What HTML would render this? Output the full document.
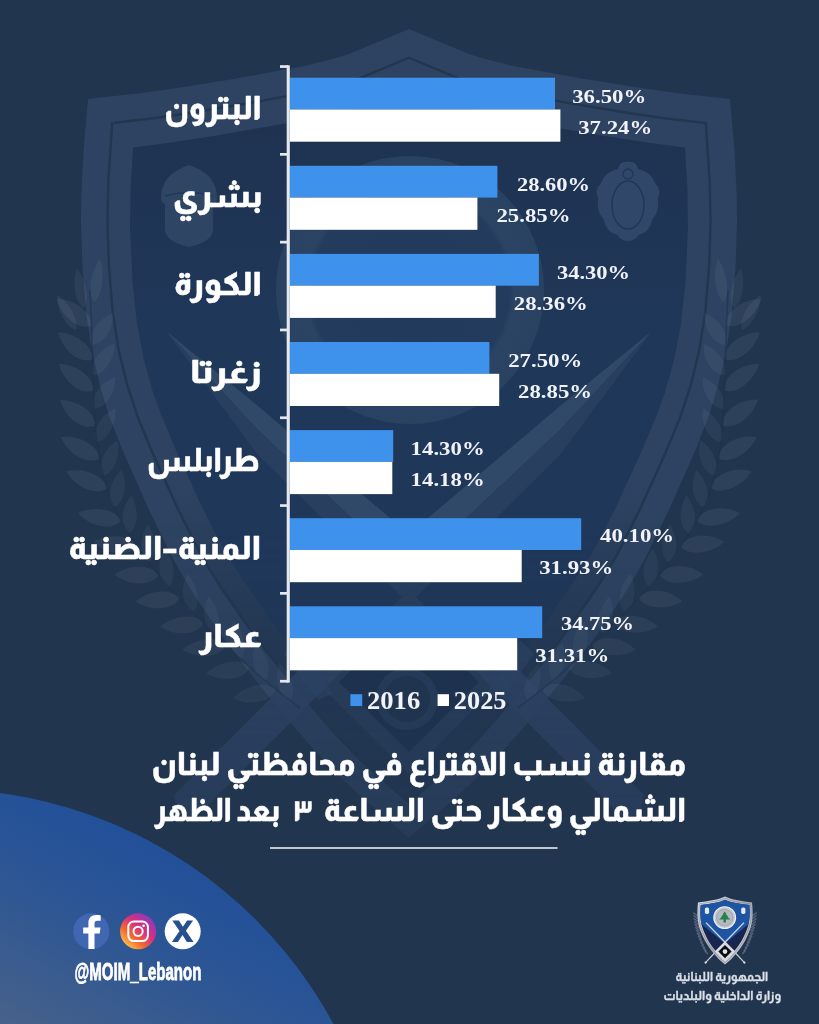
<!DOCTYPE html>
<html lang="ar">
<head>
<meta charset="utf-8">
<title>مقارنة نسب الاقتراع في محافظتي لبنان الشمالي وعكار</title>
<style>
html,body{margin:0;padding:0;background:#21354f;}
body{width:819px;height:1024px;overflow:hidden;position:relative;}
svg{position:absolute;left:0;top:0;display:block;}
.ar{font-family:'Almarai','DejaVu Sans',sans-serif;font-weight:800;fill:#fff;stroke:#fff;stroke-width:0.5px;stroke-linejoin:round;}
.ars{font-family:'Almarai','DejaVu Sans',sans-serif;font-weight:700;fill:#dde1e9;stroke:#dde1e9;stroke-width:0.3px;}
.num{font-family:'Liberation Serif',serif;font-weight:700;fill:#f1f3f8;}
.sans{font-family:'Liberation Sans',sans-serif;font-weight:700;fill:#fff;stroke:#fff;stroke-width:0.8px;}
</style>
</head>
<body>
<svg width="819" height="1024" viewBox="0 0 819 1024" role="img" aria-label="مقارنة نسب الاقتراع">
<defs>
<linearGradient id="circ" gradientUnits="userSpaceOnUse" x1="180" y1="800" x2="40" y2="1060">
<stop offset="0" stop-color="#1f4e99"/>
<stop offset="0.25" stop-color="#245198"/>
<stop offset="0.5" stop-color="#2d5694"/>
<stop offset="0.75" stop-color="#3b5c8e"/>
<stop offset="1" stop-color="#4a6389"/>
</linearGradient>
<linearGradient id="ig" x1="0.15" y1="0.9" x2="0.85" y2="0.1">
<stop offset="0" stop-color="#fdc04d"/>
<stop offset="0.3" stop-color="#f4672f"/>
<stop offset="0.6" stop-color="#d92f7d"/>
<stop offset="1" stop-color="#8a3ac0"/>
</linearGradient>
</defs>
<rect width="819" height="1024" fill="#21354f"/>
<g id="watermark">
<defs>
<linearGradient id="wmfade" gradientUnits="userSpaceOnUse" x1="0" y1="520" x2="0" y2="840"><stop offset="0" stop-color="#fff"/><stop offset="1" stop-color="#777"/></linearGradient>
<mask id="wmmask" maskUnits="userSpaceOnUse" x="0" y="0" width="819" height="1024"><rect width="819" height="1024" fill="url(#wmfade)"/></mask>
<path id="shOuter" d="M409.0 29.0 L349.0 54.0 L333.6 58.7 L305.9 65.7 L233.6 78.9 L175.8 88.3 L139.6 93.3 L88.0 99.0 L83.5 150.0 L81.3 195.6 L80.9 221.3 L82.5 267.5 L86.4 315.3 L91.4 348.2 L99.8 385.3 L108.6 414.3 L122.0 448.9 L148.6 509.0 L172.3 557.3 L181.7 574.3 L195.9 597.5 L225.0 640.0 L254.2 678.6 L291.8 724.2 L315.7 751.6 L342.2 779.0 L367.1 801.7 L409.0 838.0 L450.9 801.7 L475.8 779.0 L502.3 751.6 L526.2 724.2 L563.8 678.6 L593.0 640.0 L622.1 597.5 L636.3 574.3 L645.7 557.3 L669.4 509.0 L696.0 448.9 L709.4 414.3 L718.2 385.3 L726.6 348.2 L731.6 315.3 L735.5 267.5 L737.1 221.3 L736.7 195.6 L734.5 150.0 L730.0 99.0 L678.4 93.3 L642.2 88.3 L584.4 78.9 L512.1 65.7 L484.4 58.7 L469.0 54.0 L409.0 29.0Z"/>
<path id="shPanel" d="M133.0 147.4 L130.5 189.3 L130.0 229.0 L132.6 283.3 L137.1 325.0 L143.8 359.4 L152.9 392.3 L161.8 416.8 L176.8 452.3 L202.1 507.5 L219.9 542.3 L228.4 557.0 L241.6 577.9 L269.5 618.0 L283.1 636.2 L302.2 660.0 L334.9 699.2 L352.0 718.7 L376.0 743.5 L409.0 773.2 L442.0 743.5 L466.0 718.7 L483.1 699.2 L515.8 660.0 L534.9 636.2 L548.5 618.0 L576.4 577.9 L589.6 557.0 L598.1 542.3 L615.9 507.5 L641.2 452.3 L656.2 416.8 L665.1 392.3 L674.2 359.4 L680.9 325.0 L685.4 283.3 L688.0 229.0 L687.5 189.3 L685.0 147.4 L652.3 143.3 L601.7 135.5 L534.1 123.8 L497.9 116.7 L471.5 109.9 L452.9 104.3 L409.0 86.1 L365.1 104.3 L346.5 109.9 L320.1 116.7 L283.9 123.8 L216.3 135.5 L165.7 143.3 L133.0 147.4Z"/>
<clipPath id="clipPanel"><use href="#shPanel"/></clipPath>
<linearGradient id="band2" gradientUnits="userSpaceOnUse" x1="0" y1="480" x2="0" y2="680"><stop offset="0" stop-color="#20344f" stop-opacity="0"/><stop offset="1" stop-color="#20344f" stop-opacity="0.85"/></linearGradient>
<linearGradient id="panelG" gradientUnits="userSpaceOnUse" x1="0" y1="130" x2="0" y2="330"><stop offset="0" stop-color="#1f3351"/><stop offset="1" stop-color="#1f3759"/></linearGradient>
<path id="leaf" d="M0 0 C5 -10 22 -11 34 0 C22 10 5 9 0 0Z"/>
<radialGradient id="ringG" gradientUnits="userSpaceOnUse" cx="410" cy="290" r="134"><stop offset="0" stop-color="#223a5c"/><stop offset="0.74" stop-color="#233b5d"/><stop offset="0.78" stop-color="#2b4464"/><stop offset="1" stop-color="#294262"/></radialGradient>
</defs>
<g mask="url(#wmmask)">
<use href="#shOuter" fill="#2d4361"/>
<path d="M112.2 123.0 L108.4 180.5 L107.4 221.1 L108.9 266.0 L112.7 312.2 L118.8 350.6 L127.3 385.3 L138.3 418.6 L152.7 453.3 L177.2 507.6 L200.2 553.2 L209.1 568.6 L222.8 590.3 L251.3 631.2 L265.3 649.9 L284.8 674.3 L317.8 713.8 L335.3 733.8 L360.5 759.8 L409.0 803.0 L457.5 759.8 L482.7 733.8 L500.2 713.8 L533.2 674.3 L552.7 649.9 L566.7 631.2 L595.2 590.3 L608.9 568.6 L617.8 553.2 L640.8 507.6 L665.3 453.3 L679.7 418.6 L690.7 385.3 L699.2 350.6 L705.3 312.2 L709.1 266.0 L710.6 221.1 L709.6 180.5 L705.8 123.0 L664.6 118.3 L630.1 113.3 L563.4 102.1 L506.6 91.6 L477.4 84.2 L460.3 79.0 L409.0 57.7 L357.7 79.0 L340.6 84.2 L311.4 91.6 L254.6 102.1 L187.9 113.3 L153.4 118.3 L112.2 123.0Z" fill="url(#band2)"/>
<path d="M112.2 123.0 L108.4 180.5 L107.4 221.1 L108.9 266.0 L112.7 312.2 L118.8 350.6 L127.3 385.3 L138.3 418.6 L152.7 453.3 L177.2 507.6 L200.2 553.2 L209.1 568.6 L222.8 590.3 L251.3 631.2 L265.3 649.9 L284.8 674.3 L317.8 713.8 L335.3 733.8 L360.5 759.8 L409.0 803.0 L457.5 759.8 L482.7 733.8 L500.2 713.8 L533.2 674.3 L552.7 649.9 L566.7 631.2 L595.2 590.3 L608.9 568.6 L617.8 553.2 L640.8 507.6 L665.3 453.3 L679.7 418.6 L690.7 385.3 L699.2 350.6 L705.3 312.2 L709.1 266.0 L710.6 221.1 L709.6 180.5 L705.8 123.0 L664.6 118.3 L630.1 113.3 L563.4 102.1 L506.6 91.6 L477.4 84.2 L460.3 79.0 L409.0 57.7 L357.7 79.0 L340.6 84.2 L311.4 91.6 L254.6 102.1 L187.9 113.3 L153.4 118.3 L112.2 123.0Z" fill="none" stroke="#22364f" stroke-width="2.4"/>
<use href="#shPanel" fill="url(#panelG)"/>
<g clip-path="url(#clipPanel)">
<circle cx="410" cy="290" r="134" fill="url(#ringG)"/>
<path d="M652.0 331.0 L560.0 406.0 L401.0 541.0 L409.0 572.0 L560.0 430.0Z" fill="#314968"/>
<path d="M652.0 331.0 L560.0 430.0 L409.0 572.0 L409.0 604.0 L560.0 455.0Z" fill="#283f5f"/>
<path d="M166.0 331.0 L258.0 406.0 L417.0 541.0 L409.0 572.0 L258.0 430.0Z" fill="#314968"/>
<path d="M166.0 331.0 L258.0 430.0 L409.0 572.0 L409.0 604.0 L258.0 455.0Z" fill="#283f5f"/>
</g>
<path d="M409 590 L501 682 L409 774 L317 682Z" fill="#283e5c"/>
<path d="M409 612 L479 682 L409 752 L339 682Z" fill="#1d3150"/>
<circle cx="407" cy="699" r="31" fill="#263d5c"/>
<circle cx="407" cy="699" r="23" fill="#20344f"/>
<path d="M492.0 643.0 L644.0 795.0 L640.0 815.0 L622.0 817.0 L470.0 665.0Z" fill="#30476a" fill-opacity="0.85"/>
<path d="M520.0 640.0 L534.0 654.0 L500.0 700.0 L486.0 694.0Z" fill="#30476a" fill-opacity="0.6"/>
<path d="M326.0 643.0 L174.0 795.0 L178.0 815.0 L196.0 817.0 L348.0 665.0Z" fill="#30476a" fill-opacity="0.85"/>
<path d="M298.0 640.0 L284.0 654.0 L318.0 700.0 L332.0 694.0Z" fill="#30476a" fill-opacity="0.6"/>
<use href="#leaf" transform="translate(91.5 325.6) rotate(-142.3) scale(1.29 1.12)" fill="#fff" fill-opacity="0.062"/>
<use href="#leaf" transform="translate(92.2 344.7) rotate(-55.9) scale(1.12 0.94)" fill="#fff" fill-opacity="0.046"/>
<use href="#leaf" transform="translate(92.6 359.6) rotate(-141.6) scale(1.29 1.12)" fill="#fff" fill-opacity="0.062"/>
<use href="#leaf" transform="translate(93.0 375.2) rotate(-55.7) scale(1.12 0.94)" fill="#fff" fill-opacity="0.046"/>
<use href="#leaf" transform="translate(93.6 390.5) rotate(-142.3) scale(1.29 1.12)" fill="#fff" fill-opacity="0.062"/>
<use href="#leaf" transform="translate(94.4 408.9) rotate(-56.7) scale(1.12 0.94)" fill="#fff" fill-opacity="0.046"/>
<use href="#leaf" transform="translate(95.3 425.6) rotate(-143.7) scale(1.29 1.12)" fill="#fff" fill-opacity="0.062"/>
<use href="#leaf" transform="translate(96.8 441.8) rotate(-61.2) scale(1.12 0.94)" fill="#fff" fill-opacity="0.046"/>
<use href="#leaf" transform="translate(99.5 458.4) rotate(-151.0) scale(1.29 1.12)" fill="#fff" fill-opacity="0.062"/>
<use href="#leaf" transform="translate(103.4 475.6) rotate(-68.2) scale(1.12 0.94)" fill="#fff" fill-opacity="0.046"/>
<use href="#leaf" transform="translate(106.9 488.2) rotate(-157.3) scale(1.29 1.12)" fill="#fff" fill-opacity="0.062"/>
<use href="#leaf" transform="translate(114.1 507.3) rotate(-78.6) scale(1.12 0.94)" fill="#fff" fill-opacity="0.046"/>
<use href="#leaf" transform="translate(121.1 520.8) rotate(-169.8) scale(1.29 1.12)" fill="#fff" fill-opacity="0.062"/>
<use href="#leaf" transform="translate(128.9 533.6) rotate(-86.4) scale(1.12 0.94)" fill="#fff" fill-opacity="0.046"/>
<use href="#leaf" transform="translate(137.3 546.5) rotate(-174.0) scale(1.29 1.12)" fill="#fff" fill-opacity="0.062"/>
<use href="#leaf" transform="translate(148.7 562.6) rotate(-91.0) scale(1.12 0.94)" fill="#fff" fill-opacity="0.046"/>
<use href="#leaf" transform="translate(158.5 575.0) rotate(-179.3) scale(1.29 1.12)" fill="#fff" fill-opacity="0.062"/>
<use href="#leaf" transform="translate(168.7 586.8) rotate(-96.3) scale(1.12 0.94)" fill="#fff" fill-opacity="0.046"/>
<use href="#leaf" transform="translate(179.4 598.1) rotate(175.8) scale(1.29 1.12)" fill="#fff" fill-opacity="0.062"/>
<use href="#leaf" transform="translate(193.0 612.0) rotate(-98.2) scale(1.12 0.94)" fill="#fff" fill-opacity="0.046"/>
<use href="#leaf" transform="translate(203.8 623.1) rotate(175.4) scale(1.29 1.12)" fill="#fff" fill-opacity="0.062"/>
<use href="#leaf" transform="translate(214.7 634.0) rotate(-99.3) scale(1.12 0.94)" fill="#fff" fill-opacity="0.046"/>
<use href="#leaf" transform="translate(226.0 645.0) rotate(173.8) scale(1.29 1.12)" fill="#fff" fill-opacity="0.062"/>
<use href="#leaf" transform="translate(240.7 658.9) rotate(-101.0) scale(1.12 0.94)" fill="#fff" fill-opacity="0.046"/>
<use href="#leaf" transform="translate(249.7 667.2) rotate(172.1) scale(1.29 1.12)" fill="#fff" fill-opacity="0.062"/>
<use href="#leaf" transform="translate(265.2 680.7) rotate(-104.3) scale(1.12 0.94)" fill="#fff" fill-opacity="0.046"/>
<use href="#leaf" transform="translate(275.9 689.3) rotate(168.3) scale(1.29 1.12)" fill="#fff" fill-opacity="0.062"/>
<use href="#leaf" transform="translate(290.1 700.3) rotate(-106.4) scale(1.12 0.94)" fill="#fff" fill-opacity="0.046"/>
<use href="#leaf" transform="translate(84.0 308.0) rotate(-100.0) scale(1.18 0.75)" fill="#fff" fill-opacity="0.05"/>
<use href="#leaf" transform="translate(94.0 302.0) rotate(-82.0) scale(1.29 0.75)" fill="#fff" fill-opacity="0.05"/>
<use href="#leaf" transform="translate(76.0 330.0) rotate(-118.0) scale(1.18 0.75)" fill="#fff" fill-opacity="0.05"/>
<path d="M90.0 290.0 L90.4 298.8 L90.9 311.2 L91.5 325.6 L92.0 340.0 L92.5 354.5 L92.9 370.0 L93.4 385.5 L94.0 400.0 L94.6 413.2 L95.3 425.6 L96.3 437.7 L98.0 450.0 L100.4 462.7 L103.4 475.6 L106.9 488.2 L111.0 500.0 L115.7 510.8 L121.1 520.8 L126.9 530.4 L133.0 540.0 L139.5 549.7 L146.4 559.4 L153.6 568.8 L161.0 578.0 L168.7 586.8 L176.7 595.3 L184.8 603.7 L193.0 612.0 L201.1 620.3 L209.2 628.6 L217.5 636.8 L226.0 645.0 L234.7 653.3 L243.7 661.7 L252.8 670.0 L262.0 678.0 L272.2 686.4 L283.2 695.1 L293.1 702.7 L300.0 708.0" fill="none" stroke="#1f324c" stroke-opacity="0.55" stroke-width="1.6"/>
<use href="#leaf" transform="translate(726.5 325.6) rotate(322.3) scale(1.29 1.12)" fill="#fff" fill-opacity="0.062"/>
<use href="#leaf" transform="translate(725.8 344.7) rotate(235.9) scale(1.12 0.94)" fill="#fff" fill-opacity="0.046"/>
<use href="#leaf" transform="translate(725.4 359.6) rotate(321.6) scale(1.29 1.12)" fill="#fff" fill-opacity="0.062"/>
<use href="#leaf" transform="translate(725.0 375.2) rotate(235.7) scale(1.12 0.94)" fill="#fff" fill-opacity="0.046"/>
<use href="#leaf" transform="translate(724.4 390.5) rotate(322.3) scale(1.29 1.12)" fill="#fff" fill-opacity="0.062"/>
<use href="#leaf" transform="translate(723.6 408.9) rotate(236.7) scale(1.12 0.94)" fill="#fff" fill-opacity="0.046"/>
<use href="#leaf" transform="translate(722.7 425.6) rotate(323.7) scale(1.29 1.12)" fill="#fff" fill-opacity="0.062"/>
<use href="#leaf" transform="translate(721.2 441.8) rotate(241.2) scale(1.12 0.94)" fill="#fff" fill-opacity="0.046"/>
<use href="#leaf" transform="translate(718.5 458.4) rotate(331.0) scale(1.29 1.12)" fill="#fff" fill-opacity="0.062"/>
<use href="#leaf" transform="translate(714.6 475.6) rotate(248.2) scale(1.12 0.94)" fill="#fff" fill-opacity="0.046"/>
<use href="#leaf" transform="translate(711.1 488.2) rotate(337.3) scale(1.29 1.12)" fill="#fff" fill-opacity="0.062"/>
<use href="#leaf" transform="translate(703.9 507.3) rotate(258.6) scale(1.12 0.94)" fill="#fff" fill-opacity="0.046"/>
<use href="#leaf" transform="translate(696.9 520.8) rotate(349.8) scale(1.29 1.12)" fill="#fff" fill-opacity="0.062"/>
<use href="#leaf" transform="translate(689.1 533.6) rotate(266.4) scale(1.12 0.94)" fill="#fff" fill-opacity="0.046"/>
<use href="#leaf" transform="translate(680.7 546.5) rotate(354.0) scale(1.29 1.12)" fill="#fff" fill-opacity="0.062"/>
<use href="#leaf" transform="translate(669.3 562.6) rotate(271.0) scale(1.12 0.94)" fill="#fff" fill-opacity="0.046"/>
<use href="#leaf" transform="translate(659.5 575.0) rotate(359.3) scale(1.29 1.12)" fill="#fff" fill-opacity="0.062"/>
<use href="#leaf" transform="translate(649.3 586.8) rotate(276.3) scale(1.12 0.94)" fill="#fff" fill-opacity="0.046"/>
<use href="#leaf" transform="translate(638.6 598.1) rotate(4.2) scale(1.29 1.12)" fill="#fff" fill-opacity="0.062"/>
<use href="#leaf" transform="translate(625.0 612.0) rotate(278.2) scale(1.12 0.94)" fill="#fff" fill-opacity="0.046"/>
<use href="#leaf" transform="translate(614.2 623.1) rotate(4.6) scale(1.29 1.12)" fill="#fff" fill-opacity="0.062"/>
<use href="#leaf" transform="translate(603.3 634.0) rotate(279.3) scale(1.12 0.94)" fill="#fff" fill-opacity="0.046"/>
<use href="#leaf" transform="translate(592.0 645.0) rotate(6.2) scale(1.29 1.12)" fill="#fff" fill-opacity="0.062"/>
<use href="#leaf" transform="translate(577.3 658.9) rotate(281.0) scale(1.12 0.94)" fill="#fff" fill-opacity="0.046"/>
<use href="#leaf" transform="translate(568.3 667.2) rotate(7.9) scale(1.29 1.12)" fill="#fff" fill-opacity="0.062"/>
<use href="#leaf" transform="translate(552.8 680.7) rotate(284.3) scale(1.12 0.94)" fill="#fff" fill-opacity="0.046"/>
<use href="#leaf" transform="translate(542.1 689.3) rotate(11.7) scale(1.29 1.12)" fill="#fff" fill-opacity="0.062"/>
<use href="#leaf" transform="translate(527.9 700.3) rotate(286.4) scale(1.12 0.94)" fill="#fff" fill-opacity="0.046"/>
<use href="#leaf" transform="translate(734.0 308.0) rotate(280.0) scale(1.18 0.75)" fill="#fff" fill-opacity="0.05"/>
<use href="#leaf" transform="translate(724.0 302.0) rotate(262.0) scale(1.29 0.75)" fill="#fff" fill-opacity="0.05"/>
<use href="#leaf" transform="translate(742.0 330.0) rotate(298.0) scale(1.18 0.75)" fill="#fff" fill-opacity="0.05"/>
<path d="M728.0 290.0 L727.6 298.8 L727.1 311.2 L726.5 325.6 L726.0 340.0 L725.5 354.5 L725.1 370.0 L724.6 385.5 L724.0 400.0 L723.4 413.2 L722.7 425.6 L721.7 437.7 L720.0 450.0 L717.6 462.7 L714.6 475.6 L711.1 488.2 L707.0 500.0 L702.3 510.8 L696.9 520.8 L691.1 530.4 L685.0 540.0 L678.5 549.7 L671.6 559.4 L664.4 568.8 L657.0 578.0 L649.3 586.8 L641.3 595.3 L633.2 603.7 L625.0 612.0 L616.9 620.3 L608.8 628.6 L600.5 636.8 L592.0 645.0 L583.3 653.3 L574.3 661.7 L565.2 670.0 L556.0 678.0 L545.8 686.4 L534.8 695.1 L524.9 702.7 L518.0 708.0" fill="none" stroke="#1f324c" stroke-opacity="0.55" stroke-width="1.6"/>
<path d="M161 198 q0 -24 28 -33 q28 9 28 33 q0 5 -4 6 v26 q-1 12 -24 17 q-23 -5 -24 -17 v-26 q-4 -1 -4 -6z" fill="#2e4563"/>
<path d="M165 196 q24 -7 48 0" fill="none" stroke="#1f3759" stroke-width="1.6"/>
<path d="M628 164 q8 0 9 7 q12 2 16 14 q6 6 2 14 q2 12 -5 20 q-2 12 -12 14 q-4 6 -10 6 q-6 0 -10 -6 q-10 -2 -12 -14 q-7 -8 -5 -20 q-4 -8 2 -14 q4 -12 16 -14 q1 -7 9 -7z" fill="#30476a" transform="translate(628 205) scale(1.1 1.06) translate(-628 -205)"/>
<ellipse cx="628" cy="205" rx="16" ry="24" fill="none" stroke="#1f3759" stroke-width="1.5"/>
<circle cx="628" cy="174" r="5" fill="none" stroke="#1f3759" stroke-width="1.3"/>
</g>
</g>
<circle cx="-60" cy="1236" r="447" fill="url(#circ)"/>

<g id="chart">
<rect x="280" y="65.2" width="8" height="2.7" fill="#e4e8ef"/>
<rect x="280" y="153.0" width="8" height="2.7" fill="#e4e8ef"/>
<rect x="280" y="240.8" width="8" height="2.7" fill="#e4e8ef"/>
<rect x="280" y="328.6" width="8" height="2.7" fill="#e4e8ef"/>
<rect x="280" y="416.4" width="8" height="2.7" fill="#e4e8ef"/>
<rect x="280" y="504.2" width="8" height="2.7" fill="#e4e8ef"/>
<rect x="280" y="592.0" width="8" height="2.7" fill="#e4e8ef"/>
<rect x="280" y="679.9" width="8" height="2.7" fill="#e4e8ef"/>
<rect x="289.8" y="77.7" width="265.2" height="31.8" fill="#3e92eb"/>
<rect x="289.8" y="109.5" width="270.6" height="32.2" fill="#ffffff"/>
<text class="num" x="572.2" y="102.9" font-size="19.6" textLength="74.1" lengthAdjust="spacingAndGlyphs">36.50%</text>
<text class="num" x="578.2" y="134.4" font-size="19.6" textLength="74.0" lengthAdjust="spacingAndGlyphs">37.24%</text>
<text class="ar" x="261.6" y="118.6" font-size="32" text-anchor="end" textLength="97.4" lengthAdjust="spacingAndGlyphs">البترون</text>
<rect x="289.8" y="165.8" width="207.6" height="31.8" fill="#3e92eb"/>
<rect x="289.8" y="197.6" width="187.6" height="32.2" fill="#ffffff"/>
<text class="num" x="517.0" y="190.8" font-size="19.6" textLength="73.1" lengthAdjust="spacingAndGlyphs">28.60%</text>
<text class="num" x="496.4" y="222.3" font-size="19.6" textLength="74.1" lengthAdjust="spacingAndGlyphs">25.85%</text>
<text class="ar" x="262.6" y="206.6" font-size="32" text-anchor="end" textLength="89.8" lengthAdjust="spacingAndGlyphs">بشري</text>
<rect x="289.8" y="253.9" width="249.1" height="31.8" fill="#3e92eb"/>
<rect x="289.8" y="285.7" width="205.9" height="32.2" fill="#ffffff"/>
<text class="num" x="557.0" y="278.7" font-size="19.6" textLength="73.1" lengthAdjust="spacingAndGlyphs">34.30%</text>
<text class="num" x="513.8" y="310.2" font-size="19.6" textLength="74.0" lengthAdjust="spacingAndGlyphs">28.36%</text>
<text class="ar" x="261.8" y="294.7" font-size="32" text-anchor="end" textLength="87.9" lengthAdjust="spacingAndGlyphs">الكورة</text>
<rect x="289.8" y="342.0" width="199.6" height="31.8" fill="#3e92eb"/>
<rect x="289.8" y="373.8" width="209.4" height="32.2" fill="#ffffff"/>
<text class="num" x="508.2" y="366.6" font-size="19.6" textLength="74.0" lengthAdjust="spacingAndGlyphs">27.50%</text>
<text class="num" x="518.0" y="398.1" font-size="19.6" textLength="74.1" lengthAdjust="spacingAndGlyphs">28.85%</text>
<text class="ar" x="261.8" y="382.8" font-size="32" text-anchor="end" textLength="71.5" lengthAdjust="spacingAndGlyphs">زغرتا</text>
<rect x="289.8" y="430.1" width="103.4" height="31.8" fill="#3e92eb"/>
<rect x="289.8" y="461.9" width="102.5" height="32.2" fill="#ffffff"/>
<text class="num" x="410.6" y="454.5" font-size="19.6" textLength="74.1" lengthAdjust="spacingAndGlyphs">14.30%</text>
<text class="num" x="410.6" y="486.0" font-size="19.6" textLength="74.1" lengthAdjust="spacingAndGlyphs">14.18%</text>
<text class="ar" x="259.6" y="470.8" font-size="32" text-anchor="end" textLength="112.5" lengthAdjust="spacingAndGlyphs">طرابلس</text>
<rect x="289.8" y="518.2" width="291.4" height="31.8" fill="#3e92eb"/>
<rect x="289.8" y="550.0" width="231.9" height="32.2" fill="#ffffff"/>
<text class="num" x="600.0" y="542.4" font-size="19.6" textLength="74.2" lengthAdjust="spacingAndGlyphs">40.10%</text>
<text class="num" x="539.2" y="573.9" font-size="19.6" textLength="74.0" lengthAdjust="spacingAndGlyphs">31.93%</text>
<text class="ar" x="261.2" y="558.9" font-size="32" text-anchor="end" textLength="192.8" lengthAdjust="spacingAndGlyphs">المنية–الضنية</text>
<rect x="289.8" y="606.3" width="252.4" height="31.8" fill="#3e92eb"/>
<rect x="289.8" y="638.1" width="227.4" height="32.2" fill="#ffffff"/>
<text class="num" x="561.0" y="630.3" font-size="19.6" textLength="73.1" lengthAdjust="spacingAndGlyphs">34.75%</text>
<text class="num" x="535.2" y="661.8" font-size="19.6" textLength="74.0" lengthAdjust="spacingAndGlyphs">31.31%</text>
<text class="ar" x="262.0" y="646.9" font-size="32" text-anchor="end" textLength="62.7" lengthAdjust="spacingAndGlyphs">عكار</text>
<rect x="286.7" y="65.3" width="3.1" height="617.3" fill="#e4e8ef"/>
</g>
<rect x="350.4" y="694.2" width="11.8" height="11.8" fill="#3e92eb"/>
<text class="num" x="367.0" y="709.0" font-size="24.3" textLength="53.2" lengthAdjust="spacingAndGlyphs">2016</text>
<rect x="437.6" y="694.2" width="11.4" height="11.8" fill="#ffffff"/>
<text class="num" x="453.8" y="709.0" font-size="24.3" textLength="52.7" lengthAdjust="spacingAndGlyphs">2025</text>
<g id="title">
<text class="ar" x="686.0" y="775.2" font-size="32" text-anchor="end" textLength="534.4" lengthAdjust="spacingAndGlyphs">مقارنة نسب الاقتراع في محافظتي لبنان</text>
<text class="ar" x="686.0" y="821.0" font-size="32" text-anchor="end" textLength="362.3" lengthAdjust="spacingAndGlyphs">الشمالي وعكار حتى الساعة</text>
<text class="ar" x="312.8" y="821.0" font-size="29" text-anchor="end" textLength="20.1" lengthAdjust="spacingAndGlyphs">٣</text>
<text class="ar" x="280.2" y="821.0" font-size="32" text-anchor="end" textLength="125.4" lengthAdjust="spacingAndGlyphs">بعد الظهر</text>
</g>
<rect x="270" y="847.2" width="287.5" height="1.6" fill="#e8ebf1"/>
<g id="social">
<circle cx="91.3" cy="931.3" r="18" fill="#4267b2"/>
<path d="M94.5 949 v-15.5 h5.2 l0.8 -6 h-6 v-3.8 c0 -1.8 0.6 -2.9 3 -2.9 h3.2 v-5.4 c-0.6 -0.1 -2.4 -0.3 -4.6 -0.3 c-4.6 0 -7.7 2.8 -7.7 7.9 v4.5 h-5.2 v6 h5.2 v15.5 z" fill="#fff"/>
<circle cx="138.1" cy="931.3" r="18" fill="url(#ig)"/>
<rect x="128.3" y="921.5" width="19.6" height="19.6" rx="5.5" fill="none" stroke="#fff" stroke-width="2"/>
<circle cx="138.1" cy="931.3" r="4.6" fill="none" stroke="#fff" stroke-width="2"/>
<circle cx="143.6" cy="925.8" r="1.3" fill="#fff"/>
<circle cx="182.7" cy="931.3" r="18" fill="#fff"/>
<path d="M172.3 920.5 h6.6 l4 6.2 l4.2 -6.2 h6 l-7.2 10.2 l7.6 11.4 h-6.6 l-4.4 -7 l-4.6 7 h-6 l7.6 -11.2 z" fill="#28508c"/>
<text class="sans" x="74.6" y="979.7" font-size="23.3" textLength="126.9" lengthAdjust="spacingAndGlyphs">@MOIM_Lebanon</text>
</g>
<g id="logo">
<defs>
<linearGradient id="lgSilver" x1="0" y1="0" x2="1" y2="1"><stop offset="0" stop-color="#e3e6ec"/><stop offset="0.5" stop-color="#a9aeb9"/><stop offset="1" stop-color="#d4d7de"/></linearGradient>
<clipPath id="lgClip"><path d="M700.72 905.11 L700.46 909.29 L700.38 912.67 L700.56 917.20 L700.91 920.93 L701.33 923.42 L702.03 926.28 L702.94 929.02 L704.14 931.91 L706.19 936.46 L708.10 940.25 L709.97 943.32 L712.35 946.74 L715.14 950.33 L719.37 955.31 L721.45 957.46 L725.00 960.63 L728.55 957.46 L730.63 955.31 L734.86 950.33 L737.65 946.74 L740.03 943.32 L741.90 940.25 L743.81 936.46 L745.86 931.91 L747.06 929.02 L747.97 926.28 L748.67 923.42 L749.09 920.93 L749.44 917.20 L749.62 912.67 L749.54 909.29 L749.28 905.11 L742.81 904.24 L733.05 902.52 L729.06 901.44 L725.00 899.75 L720.94 901.44 L716.95 902.52 L707.19 904.24 L700.72 905.11Z"/></clipPath>
</defs>
<path d="M697.4 915.6 L693.8 913.0" stroke="#9aa3b3" stroke-width="1.5" stroke-linecap="round" opacity="0.42"/>
<path d="M697.5 918.5 L694.0 915.9" stroke="#9aa3b3" stroke-width="1.5" stroke-linecap="round" opacity="0.42"/>
<path d="M697.6 921.4 L694.2 918.8" stroke="#9aa3b3" stroke-width="1.5" stroke-linecap="round" opacity="0.42"/>
<path d="M697.9 924.4 L694.6 921.8" stroke="#9aa3b3" stroke-width="1.5" stroke-linecap="round" opacity="0.42"/>
<path d="M698.3 927.3 L695.1 924.7" stroke="#9aa3b3" stroke-width="1.5" stroke-linecap="round" opacity="0.42"/>
<path d="M698.9 930.2 L695.7 927.6" stroke="#9aa3b3" stroke-width="1.5" stroke-linecap="round" opacity="0.42"/>
<path d="M699.5 933.1 L696.5 930.5" stroke="#9aa3b3" stroke-width="1.5" stroke-linecap="round" opacity="0.42"/>
<path d="M700.3 936.1 L697.3 933.5" stroke="#9aa3b3" stroke-width="1.5" stroke-linecap="round" opacity="0.42"/>
<path d="M701.2 939.0 L698.3 936.4" stroke="#9aa3b3" stroke-width="1.5" stroke-linecap="round" opacity="0.42"/>
<path d="M702.2 941.9 L699.4 939.3" stroke="#9aa3b3" stroke-width="1.5" stroke-linecap="round" opacity="0.42"/>
<path d="M703.3 944.8 L700.6 942.2" stroke="#9aa3b3" stroke-width="1.5" stroke-linecap="round" opacity="0.42"/>
<path d="M704.6 947.8 L702.0 945.2" stroke="#9aa3b3" stroke-width="1.5" stroke-linecap="round" opacity="0.42"/>
<path d="M705.9 950.7 L703.4 948.1" stroke="#9aa3b3" stroke-width="1.5" stroke-linecap="round" opacity="0.42"/>
<path d="M707.4 953.6 L705.0 951.0" stroke="#9aa3b3" stroke-width="1.5" stroke-linecap="round" opacity="0.42"/>
<path d="M752.6 915.6 L756.2 913.0" stroke="#9aa3b3" stroke-width="1.5" stroke-linecap="round" opacity="0.42"/>
<path d="M752.5 918.5 L756.0 915.9" stroke="#9aa3b3" stroke-width="1.5" stroke-linecap="round" opacity="0.42"/>
<path d="M752.4 921.4 L755.8 918.8" stroke="#9aa3b3" stroke-width="1.5" stroke-linecap="round" opacity="0.42"/>
<path d="M752.1 924.4 L755.4 921.8" stroke="#9aa3b3" stroke-width="1.5" stroke-linecap="round" opacity="0.42"/>
<path d="M751.7 927.3 L754.9 924.7" stroke="#9aa3b3" stroke-width="1.5" stroke-linecap="round" opacity="0.42"/>
<path d="M751.1 930.2 L754.3 927.6" stroke="#9aa3b3" stroke-width="1.5" stroke-linecap="round" opacity="0.42"/>
<path d="M750.5 933.1 L753.5 930.5" stroke="#9aa3b3" stroke-width="1.5" stroke-linecap="round" opacity="0.42"/>
<path d="M749.7 936.1 L752.7 933.5" stroke="#9aa3b3" stroke-width="1.5" stroke-linecap="round" opacity="0.42"/>
<path d="M748.8 939.0 L751.7 936.4" stroke="#9aa3b3" stroke-width="1.5" stroke-linecap="round" opacity="0.42"/>
<path d="M747.8 941.9 L750.6 939.3" stroke="#9aa3b3" stroke-width="1.5" stroke-linecap="round" opacity="0.42"/>
<path d="M746.7 944.8 L749.4 942.2" stroke="#9aa3b3" stroke-width="1.5" stroke-linecap="round" opacity="0.42"/>
<path d="M745.4 947.8 L748.0 945.2" stroke="#9aa3b3" stroke-width="1.5" stroke-linecap="round" opacity="0.42"/>
<path d="M744.1 950.7 L746.6 948.1" stroke="#9aa3b3" stroke-width="1.5" stroke-linecap="round" opacity="0.42"/>
<path d="M742.6 953.6 L745.0 951.0" stroke="#9aa3b3" stroke-width="1.5" stroke-linecap="round" opacity="0.42"/>
<path d="M715.5 952 L705.8 962.3" stroke="#c9cdd6" stroke-width="1.2" stroke-linecap="round"/>
<circle cx="705.6" cy="962.6" r="1.1" fill="#e6e8ee"/>
<path d="M734.5 952 L744.2 962.3" stroke="#c9cdd6" stroke-width="1.2" stroke-linecap="round"/>
<circle cx="744.4" cy="962.6" r="1.1" fill="#e6e8ee"/>
<path d="M725.00 896.50 L719.95 898.60 L716.32 899.59 L705.37 901.50 L697.98 902.39 L697.60 906.69 L697.38 912.69 L697.51 916.57 L697.85 920.60 L698.26 923.37 L698.97 926.50 L699.71 928.93 L700.84 931.85 L703.08 936.90 L705.08 940.97 L707.06 944.36 L709.51 947.93 L711.97 951.18 L715.14 955.02 L717.14 957.33 L719.37 959.63 L725.00 964.60 L730.63 959.63 L732.86 957.33 L734.86 955.02 L738.03 951.18 L740.49 947.93 L742.94 944.36 L744.92 940.97 L746.92 936.90 L749.16 931.85 L750.29 928.93 L751.03 926.50 L751.74 923.37 L752.15 920.60 L752.49 916.57 L752.62 912.69 L752.40 906.69 L752.02 902.39 L744.63 901.50 L733.68 899.59 L730.05 898.60 L725.00 896.50Z" fill="url(#lgSilver)"/>
<path d="M699.35 903.75 L699.00 908.57 L698.88 912.68 L699.01 916.49 L699.34 920.42 L699.86 923.72 L700.59 926.70 L701.53 929.56 L702.76 932.51 L704.83 937.10 L706.78 940.98 L708.72 944.15 L711.53 948.16 L714.42 951.81 L718.77 956.88 L721.06 959.15 L725.00 962.61 L728.94 959.15 L731.23 956.88 L735.58 951.81 L738.47 948.16 L741.28 944.15 L743.22 940.98 L745.17 937.10 L747.24 932.51 L748.47 929.56 L749.41 926.70 L750.14 923.72 L750.66 920.42 L750.99 916.49 L751.12 912.68 L751.00 908.57 L750.65 903.75 L746.61 903.29 L743.72 902.87 L733.36 901.06 L729.56 900.02 L725.00 898.13 L720.44 900.02 L716.64 901.06 L706.28 902.87 L703.39 903.29 L699.35 903.75Z" fill="none" stroke="#5f6674" stroke-width="0.5" opacity="0.8"/>
<g clip-path="url(#lgClip)">
<rect x="695" y="895" width="60" height="72" fill="#17254f"/>
<path d="M695 895 H755 V919 L725 943.5 L695 919Z" fill="#1d55a4"/>
<path d="M705.5 922.2 L726.6 943.6 L723.8 941.2 Z" fill="#e9ecf2"/>
<path d="M706.0 922.6 L735.5 953" stroke="#d5d9e1" stroke-width="1.3"/>
<path d="M744.5 922.2 L723.4 943.6 L726.2 941.2 Z" fill="#e9ecf2"/>
<path d="M744.0 922.6 L714.5 953" stroke="#d5d9e1" stroke-width="1.3"/>
</g>
<rect x="704.9" y="907.4" width="4.2" height="6.6" rx="1.7" fill="#e6e9ef"/>
<rect x="741.2" y="907.4" width="4.2" height="6.6" rx="1.7" fill="#e6e9ef"/>
<circle cx="724.7" cy="917.6" r="10.9" fill="#c4c8d0"/>
<circle cx="724.7" cy="917.6" r="10.9" fill="none" stroke="#eef0f4" stroke-width="1.1"/>
<circle cx="724.7" cy="917.6" r="8.2" fill="#b4b9c2"/>
<circle cx="724.7" cy="917.6" r="8.2" fill="none" stroke="#8d939e" stroke-width="0.6"/>
<path d="M724.7 911.6 l1.9 2.3 h-0.9 l2.6 2.6 h-1.1 l3.2 3 h-4.5 v2.9 h-2.4 v-2.9 h-4.5 l3.2 -3 h-1.1 l2.6 -2.6 h-0.9 z" fill="#25804a"/>
<path d="M725 941.4 L735.2 951.6 L725 961.8 L714.8 951.6Z" fill="#d7dae1"/>
<path d="M725 945 L731.6 951.6 L725 958.2 L718.4 951.6Z" fill="#0c0d12"/>
<circle cx="725" cy="951.6" r="2.3" fill="#e4e6ea"/>
</g>
<text class="ars" x="768.2" y="980.5" font-size="12.2" text-anchor="end" textLength="92.7" lengthAdjust="spacingAndGlyphs">الجمهورية اللبنانية</text>
<text class="ars" x="781.2" y="999.9" font-size="12.2" text-anchor="end" textLength="117.6" lengthAdjust="spacingAndGlyphs">وزارة الداخلية والبلديات</text>
</svg>
</body>
</html>
